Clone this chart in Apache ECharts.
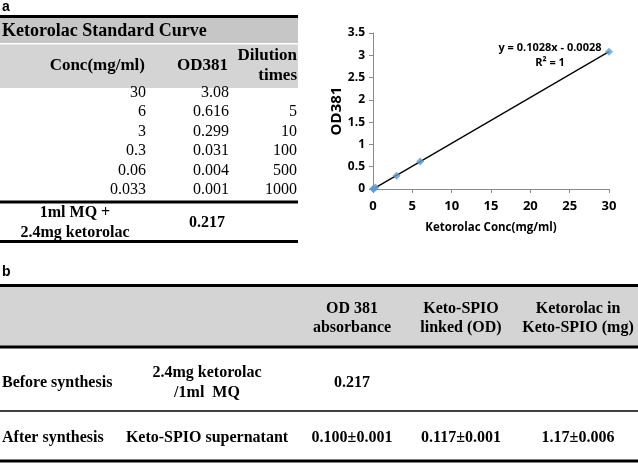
<!DOCTYPE html>
<html><head><meta charset="utf-8">
<script src="https://cdn.jsdelivr.net/npm/echarts@6/dist/echarts.min.js"></script>
<style>html,body{margin:0;padding:0;background:#fff}#c{width:638px;height:464px}</style>
</head><body><div id="c"></div>
<script>
// ---- Data (panel a) ----
const tableTitleA = 'Ketorolac Standard Curve';
const headerConc = 'Conc(mg/ml)';
const headerOD = 'OD381';
const headerDil = 'Dilution\ntimes';
const concValues = [30, 6, 3, 0.3, 0.06, 0.033];
const concLabels = ['30', '6', '3', '0.3', '0.06', '0.033'];
const odValues = [3.08, 0.616, 0.299, 0.031, 0.004, 0.001];
const odLabels = ['3.08', '0.616', '0.299', '0.031', '0.004', '0.001'];
const dilutionLabels = ['', '5', '10', '100', '500', '1000'];
const sampleLabelA = '1ml MQ +\n2.4mg ketorolac';
const sampleODA = '0.217';
// trendline from the fitted equation y = 0.1028x - 0.0028
const trendX = [0, 30];
const trendY = [-0.0028, 3.0812];
const equationText = 'y = 0.1028x - 0.0028';
const r2Text = 'R² = 1';
const xTicks = [0, 5, 10, 15, 20, 25, 30];
const yTicks = [0, 0.5, 1, 1.5, 2, 2.5, 3, 3.5];

// ---- Data (panel b) ----
const headersB = ['OD 381\nabsorbance', 'Keto-SPIO\nlinked (OD)', 'Ketorolac in\nKeto-SPIO (mg)'];
const rowLabelsB = ['Before synthesis', 'After synthesis'];
const sampleB = ['2.4mg ketorolac\n/1ml  MQ', 'Keto-SPIO supernatant'];
const odB = ['0.217', '0.100±0.001'];
const linkedB = ['', '0.117±0.001'];
const mgB = ['', '1.17±0.006'];

// ---- Drawing ----
const SERIF = '"Liberation Serif", "Times New Roman", serif';
const g = [];
function txt(t, x, y, size, bold, align, lh) {
  g.push({type: 'text', z: 10, style: {text: t, x: x, y: y, fill: '#000',
    font: (bold ? 'bold ' : '') + size + 'px ' + SERIF, align: align || 'left',
    verticalAlign: 'middle', lineHeight: lh || size * 1.2}});
}
function hline(x1, x2, y, w) {
  g.push({type: 'line', z: 9, shape: {x1: x1, y1: y, x2: x2, y2: y}, style: {stroke: '#000', lineWidth: w}});
}
function rect(x, y, w, h, c) {
  g.push({type: 'rect', z: 1, shape: {x: x, y: y, width: w, height: h}, style: {fill: c}});
}
// panel labels
g.push({type: 'text', z: 10, style: {text: 'a', x: 2, y: 7, font: 'bold 14px "Liberation Sans", Arial, sans-serif', fill: '#000', verticalAlign: 'middle'}});
g.push({type: 'text', z: 10, style: {text: 'b', x: 2, y: 272, font: 'bold 14px "Liberation Sans", Arial, sans-serif', fill: '#000', verticalAlign: 'middle'}});

// table a
const aW = 298;
rect(0, 17, aW, 26, '#c6c6c6');
rect(0, 44.5, aW, 43.5, '#d4d4d4');
hline(0, aW, 16.5, 3);
txt(tableTitleA, 2, 31, 18, true, 'left');
txt(headerConc, 145, 66, 17, true, 'right');
txt(headerOD, 228, 66, 17, true, 'right');
txt(headerDil, 297, 65.5, 17, true, 'right', 20.5);
for (let i = 0; i < concLabels.length; i++) {
  const y = 92.5 + i * 19.5;
  txt(concLabels[i], 146, y, 16, false, 'right');
  txt(odLabels[i], 229, y, 16, false, 'right');
  txt(dilutionLabels[i], 297, y, 16, false, 'right');
}
hline(0, aW, 202, 3);
txt(sampleLabelA, 75, 223, 16, true, 'center', 19.5);
txt(sampleODA, 207, 223, 16, true, 'center');
hline(0, aW, 241.5, 3);

// table b
const bW = 638;
rect(0, 286, bW, 60, '#d4d4d4');
hline(0, bW, 285.5, 3);
hline(0, bW, 347, 3);
const colB = [352, 461, 578];
for (let j = 0; j < headersB.length; j++) txt(headersB[j], colB[j], 318.5, 16, true, 'center', 19.5);
const rowYB = [383, 437.5];
for (let i = 0; i < rowLabelsB.length; i++) {
  txt(rowLabelsB[i], 2, rowYB[i], 16, true, 'left');
  txt(sampleB[i], 207, rowYB[i], 16, true, 'center', 19.5);
  txt(odB[i], colB[0], rowYB[i], 16, true, 'center');
  txt(linkedB[i], colB[1], rowYB[i], 16, true, 'center');
  txt(mgB[i], colB[2], rowYB[i], 16, true, 'center');
}
hline(0, bW, 411, 1.5);
hline(0, bW, 461, 3);

// equation labels
const SANS = '"Open Sans", "Noto Sans", sans-serif';
g.push({type: 'text', z: 10, style: {text: equationText, x: 550, y: 48, font: 'bold 11px ' + SANS, fill: '#000', align: 'center', verticalAlign: 'middle'}});
g.push({type: 'text', z: 10, style: {text: r2Text, x: 550, y: 63, font: 'bold 11px ' + SANS, fill: '#000', align: 'center', verticalAlign: 'middle'}});

const chart = echarts.init(document.getElementById('c'), null, {renderer: 'canvas'});
const axisLabelStyle = {color: '#000', fontFamily: SANS, fontWeight: 'bold', fontSize: 13};
chart.setOption({
  animation: false,
  backgroundColor: '#fff',
  grid: {left: 373, right: 29, top: 33, bottom: 275, containLabel: false},
  xAxis: {
    type: 'value', min: xTicks[0], max: xTicks[xTicks.length - 1], interval: xTicks[1] - xTicks[0],
    name: 'Ketorolac Conc(mg/ml)', nameLocation: 'middle', nameGap: 33,
    nameTextStyle: {color: '#000', fontFamily: SANS, fontWeight: 'bold', fontSize: 11.5},
    axisLine: {show: true, onZero: false, lineStyle: {color: '#8a8a8a', width: 1}},
    axisTick: {show: true, inside: false, length: 4, lineStyle: {color: '#8a8a8a'}},
    axisLabel: Object.assign({margin: 11}, axisLabelStyle),
    splitLine: {show: false}
  },
  yAxis: {
    type: 'value', min: yTicks[0], max: yTicks[yTicks.length - 1], interval: yTicks[1] - yTicks[0],
    name: 'OD381', nameLocation: 'middle', nameGap: 29, nameRotate: 90,
    nameTextStyle: {color: '#000', fontFamily: SANS, fontWeight: 'bold', fontSize: 15},
    axisLine: {show: true, lineStyle: {color: '#8a8a8a', width: 1}},
    axisTick: {show: true, inside: false, length: 4, lineStyle: {color: '#8a8a8a'}},
    axisLabel: Object.assign({margin: 8}, axisLabelStyle, {fontSize: 12}),
    splitLine: {show: false}
  },
  series: [
    {type: 'line', data: trendX.map((x, i) => [x, trendY[i]]), symbol: 'none', clip: true,
     lineStyle: {color: '#000', width: 1.3}, z: 2},
    {type: 'scatter', data: concValues.map((x, i) => [x, odValues[i]]), symbol: 'diamond', symbolSize: 8,
     itemStyle: {color: '#5b9bd5'}, z: 3}
  ],
  graphic: g
});
</script></body></html>
